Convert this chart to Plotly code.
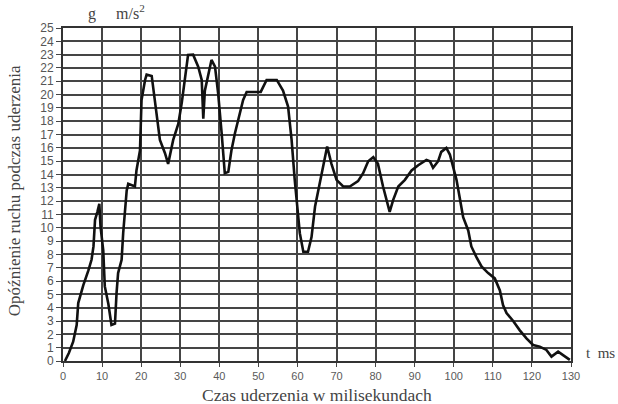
import plotly.graph_objects as go

# time [ms]
t_ms = [0.5, 1.5, 2.6, 3.5, 3.9, 4.5, 5.2, 6.5, 7.3, 7.8, 8.2, 8.8, 9.3, 9.6, 10.3, 10.7,
        11.6, 12.4, 13.3, 13.7, 14.1, 15.0, 15.4, 16.3, 16.7, 18.4, 18.8, 19.7, 20.1,
        21.0, 21.4, 22.7, 23.5, 24.8, 26.1, 26.9, 28.2, 29.5, 30.4, 31.2, 32.0, 33.3,
        34.6, 35.5, 35.9, 36.3, 37.2, 38.0, 38.9, 39.7, 40.6, 41.4, 42.3, 43.1, 44.0,
        45.3, 46.1, 47.0, 50.6, 52.1, 54.7, 56.3, 57.6, 58.5, 59.3, 60.6, 61.5, 62.7,
        63.6, 64.5, 65.7, 66.6, 67.6, 68.7, 70.0, 71.7, 73.4, 75.5, 76.8, 78.1, 79.4,
        80.6, 81.9, 83.6, 84.5, 85.8, 87.5, 89.2, 90.9, 93.0, 93.9, 94.7, 96.0, 96.8,
        98.1, 99.0, 99.8, 100.7, 101.5, 102.4, 103.7, 104.5, 105.8, 107.1, 108.8,
        110.5, 111.8, 112.6, 113.5, 115.2, 116.9, 118.6, 120.3, 122.0, 123.7, 125.0,
        126.7, 128.0, 129.7]
# deceleration [g]
g_val = [0.0, 0.6, 1.45, 2.7, 4.35, 5.0, 5.7, 6.8, 7.6, 8.6, 10.6, 11.2, 11.8, 10.1, 8.3, 5.6,
         4.3, 2.7, 2.8, 5.1, 6.6, 7.6, 9.6, 12.8, 13.3, 13.1, 14.3, 15.8, 19.6,
         21.1, 21.5, 21.4, 19.4, 16.6, 15.6, 14.8, 16.6, 17.8, 19.4, 21.1, 22.97, 23.0,
         22.1, 21.1, 18.2, 20.3, 21.6, 22.6, 22.1, 20.1, 17.1, 14.1, 14.2, 15.8, 17.1,
         18.8, 19.6, 20.2, 20.2, 21.1, 21.1, 20.3, 19.1, 16.6, 13.6, 9.6, 8.2, 8.2,
         9.3, 11.6, 13.3, 14.8, 16.1, 14.8, 13.6, 13.1, 13.1, 13.5, 14.1, 15.0, 15.3,
         14.8, 13.1, 11.2, 12.1, 13.1, 13.6, 14.3, 14.7, 15.1, 15.0, 14.5, 15.0, 15.7,
         16.0, 15.5, 14.6, 13.6, 12.3, 10.8, 9.8, 8.6, 7.8, 7.1, 6.6,
         6.2, 5.3, 4.2, 3.6, 3.0, 2.3, 1.7, 1.2, 1.08, 0.83, 0.33,
         0.7, 0.45, 0.08]

x_ticks = list(range(0, 131, 10))
y_ticks = list(range(0, 26))

fig = go.Figure()
fig.add_trace(go.Scatter(x=t_ms, y=g_val, mode="lines",
                         line=dict(color="#111111", width=2.6), showlegend=False))

x_tick_font = dict(family="Liberation Sans, Arial", size=11, color="#5a5a5a")
y_tick_font = dict(family="Liberation Sans, Arial", size=12, color="#555555")
grid_col = "#454545"

fig.update_xaxes(range=[0, 130], tickvals=x_ticks, ticktext=[str(v) for v in x_ticks],
                 showgrid=True, gridcolor=grid_col, gridwidth=1.6, zeroline=False,
                 showline=True, linecolor="#333333", linewidth=2, mirror=True,
                 ticks="outside", ticklen=4, tickcolor=grid_col, tickfont=x_tick_font)
fig.update_yaxes(range=[0, 25], tickvals=y_ticks, ticktext=[str(v) for v in y_ticks],
                 showgrid=True, gridcolor=grid_col, gridwidth=1.6, zeroline=False,
                 showline=True, linecolor="#333333", linewidth=2, mirror=True,
                 ticks="outside", ticklen=5, tickcolor=grid_col, tickfont=y_tick_font)

serif = "Liberation Serif, Times New Roman, serif"
fig.update_layout(
    width=618, height=404,
    margin=dict(l=63, r=47, t=28, b=43),
    paper_bgcolor="white", plot_bgcolor="white",
    annotations=[
        dict(text="Czas uderzenia w milisekundach", xref="paper", yref="paper",
             x=0.5, y=0, yshift=-34, xanchor="center", yanchor="middle", showarrow=False,
             font=dict(family=serif, size=17.5, color="#444444")),
        dict(text="Opóźnienie ruchu podczas uderzenia", xref="paper", yref="paper",
             x=0, xshift=-49, y=0.51, xanchor="center", yanchor="middle", showarrow=False,
             textangle=-90, font=dict(family=serif, size=17, color="#444444")),
        dict(text="g&nbsp;&nbsp;&nbsp;&nbsp;&nbsp;m/s<sup>2</sup>", xref="paper", yref="paper",
             x=0, xshift=23, y=1, yshift=3, xanchor="left", yanchor="bottom", showarrow=False,
             font=dict(family=serif, size=16, color="#444444")),
        dict(text="t&nbsp;&nbsp;ms", xref="paper", yref="paper",
             x=1, xshift=13, y=0, yshift=8, xanchor="left", yanchor="middle", showarrow=False,
             font=dict(family=serif, size=15, color="#444444")),
    ],
)

fig.write_html("out.html", config={"displayModeBar": False},
               post_script="document.body.style.margin='0';")
